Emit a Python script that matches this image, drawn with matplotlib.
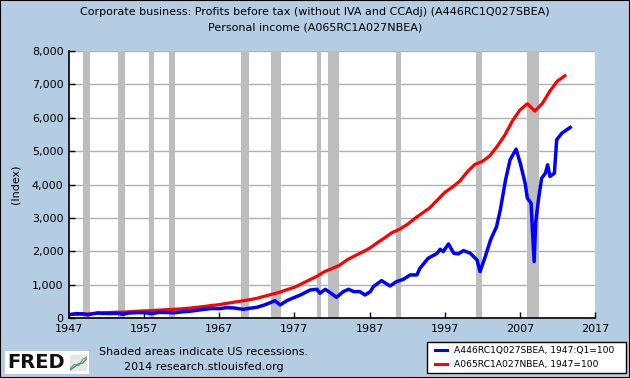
import matplotlib
matplotlib.use("Agg")
import matplotlib.pyplot as plt
from matplotlib.patches import Rectangle
from matplotlib.lines import Line2D

# Personal income, annual, 1947=100
income_years = list(range(1947, 2014))
income_index = [100, 115, 115, 130, 150, 160, 170, 175, 185, 200,
                215, 220, 235, 250, 260, 275, 295, 320, 345, 375,
                400, 440, 475, 510, 545, 590, 650, 710, 770, 850,
                920, 1030, 1140, 1250, 1390, 1480, 1580, 1740, 1860, 1970,
                2090, 2250, 2400, 2560, 2660, 2800, 2980, 3140, 3300, 3530,
                3760, 3920, 4100, 4380, 4600, 4690, 4860, 5150, 5480, 5900,
                6230, 6420, 6200, 6430, 6800, 7100, 7260]

# Corporate profits before tax, quarterly, 1947:Q1=100
profit_dates = [1947.0, 1948.0, 1948.9, 1949.5, 1950.0, 1950.8, 1951.5, 1952.5,
                1953.5, 1954.2, 1955.0, 1956.0, 1957.0, 1958.0, 1959.0, 1960.0,
                1961.0, 1962.0, 1963.0, 1964.0, 1965.0, 1966.0, 1967.0, 1968.0,
                1969.0, 1970.2, 1971.0, 1972.0, 1973.0, 1973.8, 1974.4, 1975.1,
                1976.0, 1976.4, 1977.8, 1979.1, 1980.0, 1980.4, 1981.1, 1982.0,
                1982.6, 1983.5, 1984.2, 1984.9, 1985.7, 1986.4, 1987.1, 1987.5,
                1988.6, 1989.7, 1990.6, 1991.5, 1992.4, 1993.3, 1993.7, 1994.8,
                1996.0, 1996.4, 1996.8, 1997.5, 1998.2, 1998.8, 1999.5, 2000.4,
                2000.8, 2001.3, 2001.7, 2002.4, 2003.1, 2003.9, 2004.4, 2005.1,
                2005.7, 2006.5, 2007.1, 2007.7, 2008.0, 2008.5, 2008.6, 2008.9,
                2009.1, 2009.5, 2009.9, 2010.4, 2010.7, 2011.0, 2011.6, 2011.9,
                2012.6, 2013.7]
profit_index = [100, 130, 125, 95, 120, 150, 140, 135,
                140, 110, 150, 160, 160, 130, 170, 165,
                155, 185, 200, 230, 260, 285, 280, 310,
                300, 260, 290, 320, 390, 460, 520, 390,
                520, 560, 690, 840, 860, 740, 860, 720,
                620, 790, 860, 790, 790, 690, 790, 940,
                1120, 960, 1090, 1160, 1290, 1290, 1490, 1790,
                1940, 2060, 1990, 2220, 1940, 1920, 2020, 1940,
                1850, 1740, 1390, 1840, 2340, 2740, 3240, 4140,
                4740, 5060, 4600, 4040, 3590, 3440, 2940, 1690,
                2840, 3590, 4190, 4340, 4590, 4240, 4340, 5340,
                5540, 5710]

recession_starts = [1948.9, 1953.5, 1957.6, 1960.3, 1969.9, 1973.9, 1980.0, 1981.5, 1990.5, 2001.2, 2007.9]
recession_ends = [1949.8, 1954.4, 1958.3, 1961.1, 1970.9, 1975.2, 1980.5, 1982.9, 1991.2, 2001.9, 2009.5]

x_ticks = [1947, 1957, 1967, 1977, 1987, 1997, 2007, 2017]
y_ticks = [0, 1000, 2000, 3000, 4000, 5000, 6000, 7000, 8000]

bg = "#b4cde3"
plt.rcParams["font.family"] = "DejaVu Sans"

fig = plt.figure(figsize=(6.3, 3.78), dpi=100, facecolor=bg)
ax = fig.add_axes([69 / 630, 1 - 318 / 378, 526 / 630, 267 / 378])
ax.set_facecolor("white")

for s, e in zip(recession_starts, recession_ends):
    ax.axvspan(s, e, color="#bdbdbd", lw=0, zorder=1)

ax.set_yticks(y_ticks)
ax.set_yticklabels([f"{v:,}" for v in y_ticks])
ax.set_xticks(x_ticks)
ax.grid(axis="y", color="#b0b0b0", lw=1, zorder=0)
ax.set_axisbelow(True)

ax.plot(income_years, income_index, color="#ff0000", lw=2.3, zorder=3)
ax.plot(profit_dates, profit_index, color="#0000ff", lw=2.5, zorder=4)

ax.set_xlim(1947, 2017)
ax.set_ylim(0, 8000)
for side in ("top", "right"):
    ax.spines[side].set_visible(False)
ax.spines["left"].set_linewidth(1.2)
ax.spines["bottom"].set_linewidth(1.2)
ax.tick_params(direction="in", length=4, width=1, labelsize=8, pad=4)
ax.set_ylabel("(Index)", fontsize=8, labelpad=8)

fig.text(0.5, 1 - 12 / 378, "Corporate business: Profits before tax (without IVA and CCAdj) (A446RC1Q027SBEA)",
         ha="center", va="center", fontsize=8)
fig.text(0.5, 1 - 28 / 378, "Personal income (A065RC1A027NBEA)",
         ha="center", va="center", fontsize=8)

fig.text(204 / 630, 1 - 352 / 378, "Shaded areas indicate US recessions.",
         ha="center", va="center", fontsize=8)
fig.text(204 / 630, 1 - 367 / 378, "2014 research.stlouisfed.org",
         ha="center", va="center", fontsize=8)

# FRED logo
fig.patches.append(Rectangle((5 / 630, 4 / 378), 84 / 630, 23 / 378, transform=fig.transFigure,
                             facecolor="white", edgecolor="none", zorder=0.5))
fig.text(7 / 630, 1 - 363 / 378, "FRED", ha="left", va="center", fontsize=14,
         fontweight="bold", color="#111111")
logo = fig.add_axes([70 / 630, 7 / 378, 17 / 630, 16 / 378], zorder=3)
logo.set_facecolor("#e6e6e6")
logo.plot([0, 1, 2, 3, 4], [0.5, 1.5, 1.2, 2.6, 3.2], color="#7cb342", lw=1)
logo.plot([0, 1, 2, 3, 4], [0.2, 0.9, 1.6, 1.8, 2.8], color="#4a7fbf", lw=1)
logo.set_xlim(0, 4)
logo.set_ylim(0, 3.6)
logo.set_xticks([])
logo.set_yticks([])
for sp in logo.spines.values():
    sp.set_visible(False)

# legend box
fig.patches.append(Rectangle((427 / 630, 1 - 373 / 378), 199 / 630, 31 / 378, transform=fig.transFigure,
                             facecolor="white", edgecolor="black", lw=1))
legend_labels = ["A446RC1Q027SBEA, 1947:Q1=100", "A065RC1A027NBEA, 1947=100"]
legend_colors = ["#0000ff", "#ff0000"]
for i, (lab, col) in enumerate(zip(legend_labels, legend_colors)):
    yy = 1 - (350 + i * 14) / 378
    fig.lines.append(Line2D([435 / 630, 447 / 630], [yy, yy], transform=fig.transFigure, color=col, lw=2.2))
    fig.text(454 / 630, yy, lab, ha="left", va="center", fontsize=6.6)

# outer frame
fig.patches.append(Rectangle((0, 0), 1, 1, transform=fig.transFigure, facecolor="none",
                             edgecolor="black", lw=1.5))

fig.savefig("out.png", dpi=100, facecolor=bg)
